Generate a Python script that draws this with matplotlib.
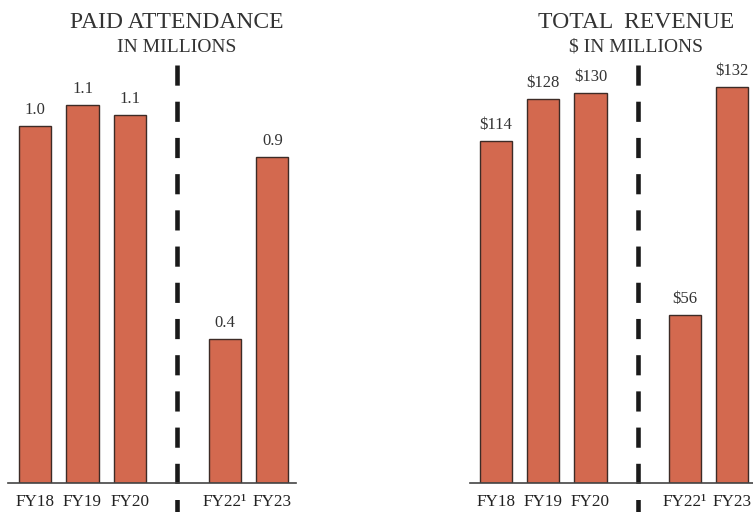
import matplotlib
matplotlib.use("Agg")
import matplotlib.pyplot as plt

plt.rcParams["font.family"] = ["Liberation Serif", "DejaVu Serif"]

years = ["FY18", "FY19", "FY20", "FY22¹", "FY23"]
pos = [0, 1, 2, 4, 5]
attendance = [1.04, 1.10, 1.07, 0.42, 0.95]
attendance_lbl = ["1.0", "1.1", "1.1", "0.4", "0.9"]
revenue = [114, 128, 130, 56, 132]
revenue_lbl = ["$114", "$128", "$130", "$56", "$132"]

BAR = "#D3694F"
EDGE = "#3d2b26"
W, H = 753, 512
BASE = 483

fig = plt.figure(figsize=(W / 100, H / 100), dpi=100)


def panel(x0, x1, xlim, vals, lbls, scale, title, sub, tx):
    ax = fig.add_axes([x0 / W, (H - BASE) / H, (x1 - x0) / W, BASE / H])
    ax.bar(pos, vals, width=0.68, color=BAR, edgecolor=EDGE, linewidth=1.0, zorder=2)
    ax.set_xlim(*xlim)
    ax.set_ylim(0, BASE / scale)
    for p, v, l in zip(pos, vals, lbls):
        ax.text(p, v + 8 / scale, l, ha="center", va="bottom", fontsize=12, color="#333333")
    ax.set_xticks(pos)
    ax.set_xticklabels(years, fontsize=12.3, color="#222222")
    ax.tick_params(axis="x", length=0, pad=8)
    ax.set_yticks([])
    for s in ("top", "right", "left"):
        ax.spines[s].set_visible(False)
    ax.spines["bottom"].set_color("#444444")
    ax.spines["bottom"].set_linewidth(1.2)
    # dashed divider, runs past the baseline into the tick labels
    ax.plot([3, 3], [(BASE - 65) / scale, (BASE - 520) / scale], color="#1a1a1a", lw=3.3,
            dashes=(4.4, 3.5), clip_on=False, solid_capstyle="butt", dash_capstyle="butt")
    fig.text(tx / W, 1 - 22 / H, title, ha="center", va="center", fontsize=17, color="#333333")
    fig.text(tx / W, 1 - 47 / H, sub, ha="center", va="center", fontsize=14, color="#333333")
    return ax


panel(8, 296, (-0.57, 5.5), attendance, attendance_lbl, 343.6,
      "PAID ATTENDANCE", "IN MILLIONS", 177)
panel(470, 753, (-0.55, 5.44), revenue, revenue_lbl, 3.0,
      "TOTAL  REVENUE", "$ IN MILLIONS", 636)

fig.savefig("out.png", dpi=100)
